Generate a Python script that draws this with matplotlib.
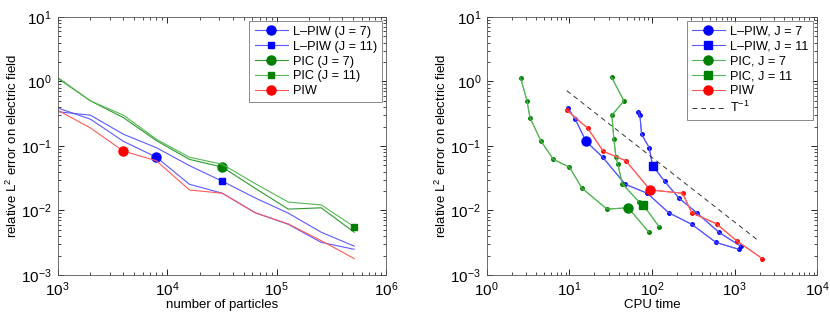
import matplotlib
matplotlib.use('Agg')
import matplotlib.pyplot as plt
import numpy as np

plt.rcParams['font.family'] = ['Liberation Sans', 'DejaVu Sans']
plt.rcParams['mathtext.fontset'] = 'custom'
plt.rcParams['mathtext.rm'] = 'Liberation Sans'
plt.rcParams['mathtext.it'] = 'Liberation Sans:italic'
plt.rcParams['font.size'] = 9.5

# number of particles (left panel)
npart = [1e3, 2e3, 4e3, 8e3, 16e3, 32e3, 64e3, 128e3, 256e3, 512e3]

# errors
err_lpiw7 = [0.39, 0.26, 0.118, 0.067, 0.0255, 0.0185, 0.0092, 0.0061, 0.0032, 0.0025]
err_lpiw11 = [0.34, 0.30, 0.152, 0.094, 0.0496, 0.0284, 0.0156, 0.0091, 0.0046, 0.0028]
err_pic7 = [1.13, 0.50, 0.275, 0.121, 0.062, 0.047, 0.022, 0.0105, 0.011, 0.0046]
err_pic11 = [1.16, 0.50, 0.30, 0.127, 0.067, 0.052, 0.026, 0.0135, 0.0122, 0.0056]
err_piw = [0.36, 0.19, 0.083, 0.059, 0.0208, 0.0185, 0.0092, 0.0062, 0.0034, 0.0018]

# CPU times (right panel)
cpu_lpiw7 = [9.6, 11.8, 15.9, 25.3, 47.4, 87.5, 160, 303, 593, 1125]
cpu_lpiw11 = [68, 71.4, 74.8, 92.5, 101.6, 142, 211, 352, 644, 1178]
cpu_pic7 = [2.58, 3.07, 3.34, 4.5, 6.4, 10.0, 14.3, 28.5, 51.5, 91.8]
cpu_pic11 = [32.5, 45.7, 32.7, 34.6, 36.6, 38.7, 43.6, 70, 78.3, 122]
cpu_piw = [9.28, 16.6, 25.7, 48.3, 95, 234, 303, 604, 1054, 2150]

# reference slope T^-1
t_ref = [9.3, 2000]
e_ref = [0.72, 0.0033]

blue_l = '#5a5aff'
dgreen_l = '#2e9a2e'
lgreen_l = '#55b855'
red_l = '#ff5a5a'

fig = plt.figure(figsize=(8.3, 3.19), dpi=100)
axL = fig.add_axes([0.0693, 0.138, 0.3958, 0.8088])
axR = fig.add_axes([0.5864, 0.138, 0.3983, 0.8088])

# left panel: one marker per curve
series_left = [
    (err_lpiw7, blue_l, 'b', 'o', 6.5, [3], 'L\u2013PIW (J = 7)'),
    (err_lpiw11, blue_l, 'b', 's', 5, [5], 'L\u2013PIW (J = 11)'),
    (err_pic7, dgreen_l, '#008000', 'o', 6.5, [5], 'PIC (J = 7)'),
    (err_pic11, lgreen_l, '#008000', 's', 5, [9], 'PIC (J = 11)'),
    (err_piw, red_l, 'r', 'o', 6.5, [2], 'PIW'),
]
for y, lc, mc, m, ms, me, lab in series_left:
    axL.plot(npart, y, color=lc, lw=0.8, marker=m, ms=ms, markevery=me,
             mfc=mc, mec=mc, label=lab)

# right panel: small dots at every run, one big marker
series_right = [
    (cpu_lpiw7, err_lpiw7, blue_l, 'b', 'o', 6.5, [2], 'L\u2013PIW, J = 7'),
    (cpu_lpiw11, err_lpiw11, blue_l, 'b', 's', 5.5, [4], 'L\u2013PIW, J = 11'),
    (cpu_pic7, err_pic7, lgreen_l, '#008000', 'o', 6.5, [8], 'PIC, J = 7'),
    (cpu_pic11, err_pic11, lgreen_l, '#008000', 's', 5.5, [8], 'PIC, J = 11'),
    (cpu_piw, err_piw, red_l, 'r', 'o', 6.5, [4], 'PIW'),
]
for x, y, lc, mc, m, ms, me, lab in series_right:
    axR.plot(x, y, color=lc, lw=0.8, marker='o', ms=2.5, mfc=mc, mec=mc)
    axR.plot(x, y, color=lc, lw=0.8, marker=m, ms=ms, markevery=me,
             mfc=mc, mec=mc, label=lab)
axR.plot(t_ref, e_ref, color='#333333', lw=0.7, ls=(0, (5, 4)), label='T$^{-1}$')

for ax, xl, xlim in [(axL, 'number of particles', (1e3, 1e6)), (axR, 'CPU time', (1e0, 1e4))]:
    ax.set_xscale('log')
    ax.set_yscale('log')
    ax.set_xlim(*xlim)
    ax.set_ylim(1e-3, 1e1)
    ax.set_xlabel(xl, labelpad=0)
    ax.set_ylabel('relative L$^2$ error on electric field', labelpad=1)
    ax.tick_params(which='both', direction='in', top=True, right=True, labelsize=11)
    ax.tick_params(which='major', length=4, width=0.6, pad=4)
    ax.tick_params(which='minor', length=2, width=0.5)
    for s in ax.spines.values():
        s.set_linewidth(0.6)
        s.set_color('#555555')
    leg = ax.legend(loc='upper right', fontsize=9.2, frameon=True, fancybox=False,
                    handlelength=2.6, handletextpad=0.4, labelspacing=0.22,
                    borderpad=0.4, borderaxespad=0.3)
    leg.get_frame().set_edgecolor('#555555')
    leg.get_frame().set_linewidth(0.6)

fig.savefig('out.png', dpi=100)
